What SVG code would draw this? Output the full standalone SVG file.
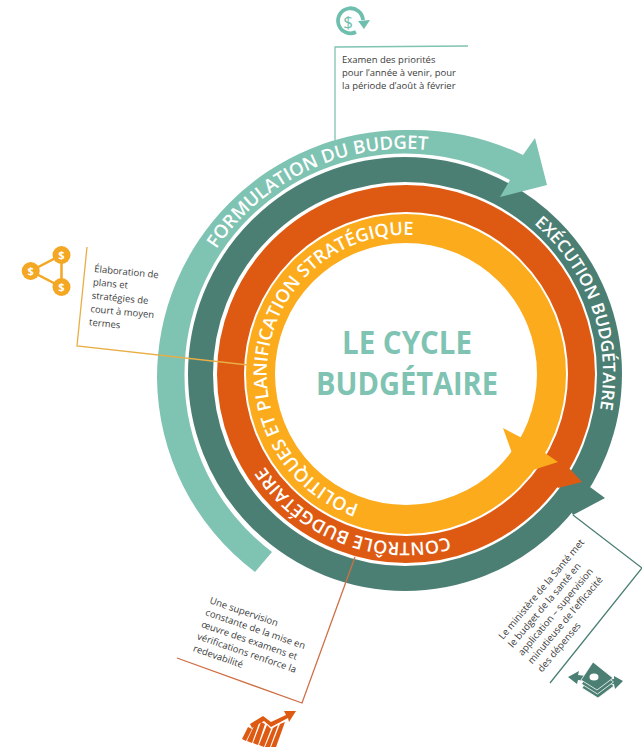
<svg xmlns="http://www.w3.org/2000/svg" width="642" height="747" viewBox="0 0 642 747">
<style>
text{font-family:"Open Sans","Noto Sans","Liberation Sans",sans-serif}
.body{font-size:9.5px;fill:#3c3c3c}
.ring{font-size:18.5px;fill:#fff;font-weight:600}
.title{font-size:32px;font-weight:700;fill:#7fc3b2}
.usd{font-size:11px;font-weight:700;fill:#fff;text-anchor:middle}
.band{fill:none}
.lead{fill:none;stroke-width:1.3}
</style>
<defs>
<path id="p-form" d="M216.200,249.200 A228,228 0 0 1 450,153.400"/>
<path id="p-exec" d="M534.1,223.9 A198,198 0 0 1 596.3,425.2"/>
<path id="p-ctrl" d="M449,537 A169,169 0 0 1 245,425"/>
<path id="p-pol" d="M359.2,504.8 A139,139 0 1 1 475.5,253.6"/>
<g id="bill"><polygon points="593,662 613,678 597,690 581,680" stroke="#fff" stroke-width="0.8"/></g>
</defs>
<rect width="642" height="747" fill="#fff"/>
<g id="node-execution">
<circle class="band" cx="405" cy="374" r="204.5" stroke="#4c7f74" stroke-width="25"/>
<polygon points="590,487 605,498 573,515 565,500" fill="#4c7f74"/>
<text class="ring" style="font-size:17.2px"><textPath href="#p-exec">EXÉCUTION BUDGÉTAIRE</textPath></text>
</g>
<g id="node-formulation">
<path d="M255,572 A246,246 0 0 1 157,378 A248,248 0 0 1 405,130 A255,255 0 0 1 523,155 L535,138 L547,185 L500,197 L510,180 A220.5,220.5 0 0 0 405,153.5 A220.5,220.5 0 0 0 184.5,374 A220.5,220.5 0 0 0 272,552 Z" fill="#7fc3b2"/>
<text class="ring"><textPath href="#p-form">FORMULATION DU BUDGET</textPath></text>
</g>
<g id="node-controle">
<circle class="band" cx="406" cy="374" r="175.5" stroke="#de5a12" stroke-width="27"/>
<polygon points="566,465 582,482 558,488 552,478" fill="#de5a12"/>
<text class="ring" style="font-size:18px"><textPath href="#p-ctrl">CONTRÔLE BUDGÉTAIRE</textPath></text>
</g>
<g id="node-politiques">
<circle class="band" cx="406" cy="374" r="145.5" stroke="#fbab1b" stroke-width="29"/>
<polygon points="503,428 522,438 545,453 558,462 533,470 512,453" fill="#fbab1b"/>
<text class="ring" style="font-size:18.2px"><textPath href="#p-pol">POLITIQUES ET PLANIFICATION STRATÉGIQUE</textPath></text>
</g>
<g id="node-title">
<text class="title" x="342" y="354" textLength="130" lengthAdjust="spacingAndGlyphs">LE CYCLE</text>
<text class="title" x="316" y="395" textLength="182" lengthAdjust="spacingAndGlyphs">BUDGÉTAIRE</text>
</g>
<g id="connectors">
<polyline class="lead" points="335,140 335,47 468,46" stroke="#7fc3b2"/>
<polyline class="lead" points="87,247 77,346 248,365" stroke="#e9ae45"/>
<polyline class="lead" points="355,557 302,703 177,658" stroke="#cf6f45"/>
<polyline class="lead" points="573,515 642,568 550,683" stroke="#4c7f74"/>
</g>
<g id="note-examen">
<text class="body" x="342" y="63">Examen des priorités</text>
<text class="body" x="342" y="76">pour l’année à venir, pour</text>
<text class="body" x="342" y="89">la période d’août à février</text>
</g>
<g id="note-elaboration">
<text class="body" transform="translate(94,272) rotate(5.5)"><tspan x="0" y="0">Élaboration de</tspan><tspan x="0" y="13.4">plans et</tspan><tspan x="0" y="26.8">stratégies de</tspan><tspan x="0" y="40.2">court à moyen</tspan><tspan x="0" y="53.6">termes</tspan></text>
</g>
<g id="note-supervision">
<text class="body" transform="translate(209,603) rotate(19)"><tspan x="0" y="0">Une supervision</tspan><tspan x="0" y="12.7">constante de la mise en</tspan><tspan x="0" y="25.4">œuvre des examens et</tspan><tspan x="0" y="38.1">vérifications renforce la</tspan><tspan x="0" y="50.8">redevabilité</tspan></text>
</g>
<g id="note-ministere">
<text class="body" style="font-size:9.6px" transform="translate(503,640) rotate(-50)"><tspan x="0" y="0">Le ministère de la Santé met</tspan><tspan x="0" y="12.7">le budget de la santé en</tspan><tspan x="0" y="25.4">application – supervision</tspan><tspan x="0" y="38.1">minutieuse de l’efficacité</tspan><tspan x="0" y="50.8">des dépenses</tspan></text>
</g>
<g id="icon-cycle">
<path d="M356,32 A12.5,12.5 0 1 1 363,20" fill="none" stroke="#6fbfae" stroke-width="3.8"/>
<polygon points="358,21 370,20 364,29" fill="#6fbfae"/>
<text x="348" y="28" text-anchor="middle" style="font-size:17px;font-weight:400;fill:#6fbfae">$</text>
</g>
<g id="icon-share">
<path d="M61.5,255 L30.7,271 L61.5,287 Z" fill="none" stroke="#f3a723" stroke-width="2.5"/>
<circle cx="61.5" cy="255" r="9" fill="#f3a723"/>
<circle cx="30.7" cy="271" r="9" fill="#f3a723"/>
<circle cx="61.5" cy="287" r="9" fill="#f3a723"/>
<text class="usd" x="61.5" y="259">$</text>
<text class="usd" x="30.7" y="275">$</text>
<text class="usd" x="61.5" y="291">$</text>
</g>
<g id="icon-chart" fill="#de5a12">
<path d="M250,724 L263,716 L271,722 L286,715 L284,711 L296,711 L289,722 L288,718 L271,727 L264,721 L252,728 Z"/>
<path d="M248,727 L252,729 L246,741 L242,739 Z"/>
<path d="M254,726 L259,723 L252,743 L247,741 Z"/>
<path d="M261,722 L265,724 L258,745 L253,743 Z"/>
<path d="M267,725 L271,729 L264,747 L259,745 Z"/>
<path d="M273,728 L278,725 L270,747 L265,747 Z"/>
<path d="M280,724 L285,722 L276,747 L271,747 Z"/>
</g>
<g id="icon-money" fill="#4c7f74">
<polygon points="568,677 579,671 578,675 586,676 586,681 578,680 577,684"/>
<polygon points="623,681 614,676 614,679 606,680 606,686 614,684 615,689"/>
<use href="#bill" transform="translate(1,8)"/>
<use href="#bill" transform="translate(0.500,4)"/>
<use href="#bill"/>
<ellipse cx="594" cy="677" rx="4.500" ry="3.500" fill="#fff"/>
</g>
</svg>
